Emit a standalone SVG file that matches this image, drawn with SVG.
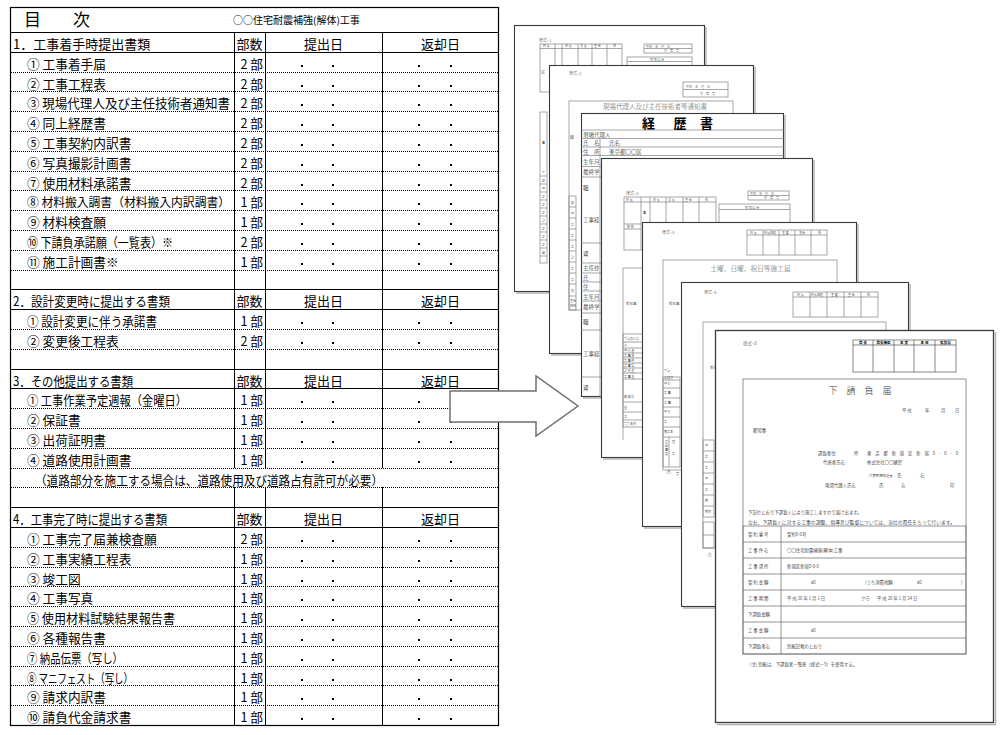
<svg xmlns="http://www.w3.org/2000/svg" width="1007" height="735" viewBox="0 0 1007 735">
<style>
text{font-family:"Noto Sans CJK JP","Noto Sans CJK SC",sans-serif;fill:#000;font-weight:300}
#toc-table text{font-weight:400}
.h{font-size:13px}
.i{font-size:12.7px}
.s{stroke:#000;stroke-width:1;fill:none}
.d{stroke:#000;stroke-width:1;stroke-dasharray:1 1;fill:none}
.pg{fill:#fff;stroke:#3a3a3a;stroke-width:1.1}
.sh{fill:none;stroke:#b0b0b0;stroke-width:1.4}
.l{fill:none;stroke:#808080;stroke-width:0.7}
.pt{fill:#444}
.t3{font-size:3px}
.t35{font-size:3.5px}
.t4{font-size:4px}
.t45{font-size:4.4px}
.t5{font-size:5.5px}
</style>
<defs>
<g id="dt"><rect x="301" y="0" width="2" height="2"/><rect x="332" y="0" width="2" height="2"/><rect x="418" y="0" width="2" height="2"/><rect x="450" y="0" width="2" height="2"/></g>
</defs>
<rect width="1007" height="735" fill="#fff"/>

<g id="toc-table">
<rect x="10.5" y="7.5" width="488" height="718" fill="#fff" stroke="#000" stroke-width="1.2"/>
<path class="s" d="M10 32.5H499M10 52.5H499M10 289.5H499M10 309.5H499M10 369.5H499M10 388.5H499M10 507.5H499M10 527.5H499"/>
<path class="d" d="M11 72.5H498M11 91.5H498M11 111.5H498M11 131.5H498M11 151.5H498M11 171.5H498M11 190.5H498M11 210.5H498M11 230.5H498M11 250.5H498M11 270.5H498M11 329.5H498M11 349.5H498M11 408.5H498M11 428.5H498M11 448.5H498M11 468.5H498M11 487.5H498M11 547.5H498M11 567.5H498M11 586.5H498M11 606.5H498M11 626.5H498M11 646.5H498M11 666.5H498M11 685.5H498M11 705.5H498"/>
<path class="s" d="M234.5 32V468M265.5 32V468M382.5 32V468M234.5 487V725M265.5 487V725M382.5 487V725"/>

<text x="24" y="26" style="font-size:17px">目</text>
<text x="73" y="26" style="font-size:17px">次</text>
<text x="233" y="24" style="font-size:10px">○○住宅耐震補強(解体)工事</text>

<text class="h" x="13" y="49">1．工事着手時提出書類</text>
<text class="h" x="13" y="306" textLength="157" lengthAdjust="spacingAndGlyphs">2．設計変更時に提出する書類</text>
<text class="h" x="13" y="386" textLength="120" lengthAdjust="spacingAndGlyphs">3．その他提出する書類</text>
<text class="h" x="13" y="524" textLength="154" lengthAdjust="spacingAndGlyphs">4．工事完了時に提出する書類</text>
<g class="h" text-anchor="middle">
<text x="249.5" y="49">部数</text><text x="323.5" y="49">提出日</text><text x="440.5" y="49">返却日</text>
<text x="249.5" y="306">部数</text><text x="323.5" y="306">提出日</text><text x="440.5" y="306">返却日</text>
<text x="249.5" y="386">部数</text><text x="323.5" y="386">提出日</text><text x="440.5" y="386">返却日</text>
<text x="249.5" y="524">部数</text><text x="323.5" y="524">提出日</text><text x="440.5" y="524">返却日</text>
</g>

<g class="i">
<text x="27" y="69">① 工事着手届</text>
<text x="27" y="89">② 工事工程表</text>
<text x="27" y="108" textLength="203" lengthAdjust="spacingAndGlyphs">③ 現場代理人及び主任技術者通知書</text>
<text x="27" y="128">④ 同上経歴書</text>
<text x="27" y="148">⑤ 工事契約内訳書</text>
<text x="27" y="168">⑥ 写真撮影計画書</text>
<text x="27" y="188">⑦ 使用材料承諾書</text>
<text x="27" y="207" textLength="203" lengthAdjust="spacingAndGlyphs" style="font-size:12px">⑧ 材料搬入調書（材料搬入内訳調書）</text>
<text x="27" y="227">⑨ 材料検査願</text>
<text x="27" y="247" textLength="146" lengthAdjust="spacingAndGlyphs">⑩ 下請負承諾願（一覧表）※</text>
<text x="27" y="267">⑪ 施工計画書※</text>
<text x="27" y="326" textLength="130" lengthAdjust="spacingAndGlyphs">① 設計変更に伴う承諾書</text>
<text x="27" y="346">② 変更後工程表</text>
<text x="27" y="405" textLength="160" lengthAdjust="spacingAndGlyphs">① 工事作業予定週報（金曜日）</text>
<text x="27" y="425">② 保証書</text>
<text x="27" y="445">③ 出荷証明書</text>
<text x="27" y="465">④ 道路使用計画書</text>
<text x="35" y="485" textLength="348" lengthAdjust="spacingAndGlyphs">（道路部分を施工する場合は、道路使用及び道路占有許可が必要）</text>
<text x="27" y="544">① 工事完了届兼検査願</text>
<text x="27" y="564">② 工事実績工程表</text>
<text x="27" y="584">③ 竣工図</text>
<text x="27" y="603">④ 工事写真</text>
<text x="27" y="623" textLength="148" lengthAdjust="spacingAndGlyphs">⑤ 使用材料試験結果報告書</text>
<text x="27" y="643">⑥ 各種報告書</text>
<text x="27" y="663" textLength="96" lengthAdjust="spacingAndGlyphs">⑦ 納品伝票（写し）</text>
<text x="27" y="683" textLength="106" lengthAdjust="spacingAndGlyphs">⑧ マニフェスト（写し）</text>
<text x="27" y="702">⑨ 請求内訳書</text>
<text x="27" y="722">⑩ 請負代金請求書</text>
</g>
<g class="i" text-anchor="end">
<text x="263" y="69">2 部</text><text x="263" y="89">2 部</text><text x="263" y="108">2 部</text><text x="263" y="128">2 部</text>
<text x="263" y="148">2 部</text><text x="263" y="168">2 部</text><text x="263" y="188">2 部</text><text x="263" y="207">1 部</text>
<text x="263" y="227">1 部</text><text x="263" y="247">2 部</text><text x="263" y="267">1 部</text>
<text x="263" y="326">1 部</text><text x="263" y="346">2 部</text>
<text x="263" y="405">1 部</text><text x="263" y="425">1 部</text><text x="263" y="445">1 部</text><text x="263" y="465">1 部</text>
<text x="263" y="544">2 部</text><text x="263" y="564">1 部</text><text x="263" y="584">1 部</text><text x="263" y="603">1 部</text>
<text x="263" y="623">1 部</text><text x="263" y="643">1 部</text><text x="263" y="663">1 部</text><text x="263" y="683">1 部</text>
<text x="263" y="702">1 部</text><text x="263" y="722">1 部</text>
</g>
<g>
<use href="#dt" y="65"/><use href="#dt" y="85"/><use href="#dt" y="104"/><use href="#dt" y="124"/><use href="#dt" y="144"/><use href="#dt" y="164"/><use href="#dt" y="184"/><use href="#dt" y="203"/><use href="#dt" y="223"/><use href="#dt" y="243"/><use href="#dt" y="263"/>
<use href="#dt" y="322"/><use href="#dt" y="342"/>
<use href="#dt" y="401"/><use href="#dt" y="421"/><use href="#dt" y="441"/><use href="#dt" y="461"/>
<use href="#dt" y="540"/><use href="#dt" y="560"/><use href="#dt" y="580"/><use href="#dt" y="599"/><use href="#dt" y="619"/><use href="#dt" y="639"/><use href="#dt" y="659"/><use href="#dt" y="679"/><use href="#dt" y="698"/><use href="#dt" y="718"/>
</g>
</g>

<g id="connectors">
<polygon points="450,391 536,391 536,376 578,406 536,436 536,422 450,422" fill="#fff" stroke="#707070" stroke-width="1.5" stroke-linejoin="miter"/>
</g>

<g id="page-1">
<rect class="pg" x="514.5" y="25.5" width="190" height="266"/>
<path class="sh" d="M706 27V293H516"/>
<text class="t4 pt" x="539" y="42">様式−1</text>
<rect class="l" x="540" y="44" width="82" height="48"/>
<path class="l" d="M540 48.5H622M555 44V92M562 44V92M578 44V92M592 44V92M607 44V92"/>
<g class="t3 pt"><text x="543" y="47.4">局 長</text><text x="565" y="47.4">局 長</text><text x="580" y="47.4">次 長</text><text x="594" y="47.4">主 任</text><text x="613" y="47.4">係</text></g>
<rect class="l" x="644" y="44" width="48" height="9"/><path class="l" d="M644 48.5H692"/>
<text class="t3 pt" x="646" y="47.5">平成　年　月　日</text><text class="t3 pt" x="664" y="52">収　第　号</text>
<rect class="l" x="627" y="57" width="65" height="22"/><path class="l" d="M627 61.5H692"/>
<text class="t3 pt" x="650" y="60.5">情 報 公 開</text>
<text class="t4 pt" x="541" y="74">区</text>
<rect class="l" x="540" y="112" width="7" height="151"/>
<path class="l" d="M540 176H547M540 184H547M540 192H547M540 200H547M540 208H547M540 216H547M540 224H547M540 232H547M540 240H547M540 248H547M540 256H547"/>
<g class="t3 pt"><text x="542" y="144">事</text><text x="542" y="174">下</text><text x="542" y="182">区</text><text x="542" y="190">契</text><text x="542" y="198">工</text><text x="542" y="206">工</text><text x="542" y="214">工</text><text x="542" y="222">請</text><text x="542" y="230">工</text><text x="542" y="238">工</text><text x="542" y="246">工</text><text x="542" y="254">高</text></g>
</g>

<g id="page-2">
<rect class="pg" x="549.5" y="65.5" width="204" height="288"/>
<path class="sh" d="M755 67V355H551"/>
<text class="t4 pt" x="569" y="75">様式−2</text>
<rect class="l" x="683" y="82" width="45" height="15"/><path class="l" d="M683 89.5H728"/>
<text class="t3 pt" x="686" y="87.5">平成　年　月　日</text><text class="t3 pt" x="700" y="95">収　第　号</text>
<rect class="l" x="569" y="101" width="164" height="209"/>
<text x="655" y="109" text-anchor="middle" style="font-size:6.5px;fill:#555">現場代理人及び主任技術者等通知書</text>
<text class="t4 pt" x="570" y="139">職</text>
<rect class="l" x="569" y="196" width="7" height="114"/>
<path class="l" d="M569 207H576M569 218H576M569 229H576M569 240H576M569 251H576M569 262H576M569 273H576M569 284H576M569 296H576"/>
<g class="t3 pt"><text x="571" y="204">区</text><text x="571" y="215">契</text><text x="571" y="226">工</text><text x="571" y="237">工</text><text x="571" y="248">工</text><text x="571" y="259">請</text><text x="571" y="270">工</text><text x="571" y="281">工</text><text x="571" y="292">現</text><text x="570" y="302">主任</text><text x="570" y="307">技術</text></g>
</g>

<g id="page-3">
<rect class="pg" x="581.5" y="113.5" width="202" height="283"/>
<path class="sh" d="M785 115V398H583"/>
<path class="l" d="M581 130H784M581 138.5H784M581 147H784M581 155.5H784M581 166.5H784M581 177H784M581 243H784M581 263H784M581 273H784M581 282H784M581 291H784M581 301H784M581 313H784M581 330H784M581 377H784M600 138.5V397"/>
<g style="font-size:13px;fill:#222" text-anchor="middle"><text x="648.5" y="127.5" style="font-weight:bold">経</text><text x="680" y="127.5" style="font-weight:bold">歴</text><text x="706.5" y="127.5" style="font-weight:bold">書</text></g>
<g class="t5 pt">
<text x="583" y="136.5">現場代理人</text>
<text x="583" y="145">氏　名</text><text x="609" y="145">氏名</text>
<text x="583" y="153.5">住　所</text><text x="609" y="153.5">東京都〇〇区</text>
<text x="583" y="163.5">生年月</text><text x="583" y="174">最終学</text>
<text x="583" y="190">職</text><text x="583" y="222">工事経</text><text x="583" y="256">資</text>
<text x="583" y="270">主任技</text><text x="583" y="280">氏</text><text x="583" y="289">住</text><text x="583" y="298.5">生年月</text><text x="583" y="309">最終学</text>
<text x="583" y="324">職</text><text x="583" y="356">工事経</text><text x="583" y="390">資</text>
</g>
</g>

<g id="page-4">
<rect class="pg" x="601.5" y="158.5" width="211" height="299"/>
<path class="sh" d="M814 160V459H603"/>
<text class="t4 pt" x="626" y="195">様式−4</text>
<rect class="l" x="624" y="197" width="92" height="53"/>
<path class="l" d="M624 202H716M641 197V250M650 197V250M666 197V250M683 197V250M699 197V250M624 224H641M624 229H641"/>
<g class="t3 pt"><text x="626" y="200.5">局 長</text><text x="653" y="200.5">局 長</text><text x="668" y="200.5">次 長</text><text x="685" y="200.5">主 任</text><text x="705" y="200.5">係</text><text x="643" y="214">事</text><text x="627" y="227.5">技 術</text></g>
<rect class="l" x="748" y="191" width="41" height="9"/><path class="l" d="M748 195.5H789"/>
<text class="t3 pt" x="750" y="194.5">平成　年　月　日</text><text class="t3 pt" x="764" y="199">収　第　号</text>
<rect class="l" x="719" y="204" width="71" height="30"/><path class="l" d="M719 209.5H790"/>
<text class="t3 pt" x="745" y="208.5">情 報 公 開</text>
<path class="l" d="M623 440V268H812"/>
<text class="t35 pt" x="626" y="305">都知事</text>
<rect class="l" x="623" y="334" width="20" height="93"/>
<path class="l" d="M623 342H643M623 348H643M623 353H643M623 358H643M623 363H643M623 368H643M623 373H643M623 379H643M623 402H643M623 412H643M623 420H643"/>
<g class="t3 pt"><text x="624" y="340">下記のとお</text><text x="624" y="346">記</text><text x="624" y="352">契 約 番</text><text x="624" y="357">工 事 番</text><text x="624" y="362">工 事 件</text><text x="624" y="367">工 事 場</text><text x="624" y="372">請 負 金</text><text x="624" y="377.5">工 事 金</text><text x="624" y="398">概 要 説</text><text x="624" y="409">金</text><text x="624" y="418">工</text><text x="624" y="425">完了年月</text></g>
</g>

<g id="page-5">
<rect class="pg" x="642.5" y="222.5" width="214" height="304"/>
<path class="sh" d="M858 224V528H644"/>
<text class="t4 pt" x="662" y="234">様式−5</text>
<rect class="l" x="747" y="230" width="80" height="25"/>
<path class="l" d="M747 235H827M763 230V255M779 230V255M795 230V255M811 230V255"/>
<g class="t3 pt"><text x="750" y="233.7">局 長</text><text x="764" y="233.7">局長補佐</text><text x="782" y="233.7">主 査</text><text x="799" y="233.7">主任</text><text x="818" y="233.7">係</text></g>
<rect class="l" x="663" y="260" width="174" height="210"/>
<text x="750.5" y="270.5" text-anchor="middle" style="font-size:6.7px;fill:#555">土曜、日曜、祝日等施工届</text>
<text class="t35 pt" x="669" y="305">都知事</text>
<rect class="l" x="663" y="377" width="17" height="90"/>
<path class="l" d="M663 380H680M663 388H680M663 398H680M663 407H680M663 417H680M663 427H680M663 437H680M669 437V467"/>
<g class="t3 pt"><text x="664" y="372">下記</text><text x="664" y="379">お届け</text><text x="664" y="385">契 約</text><text x="664" y="394">工 事</text><text x="664" y="403.5">工 事</text><text x="664" y="413">契 約</text><text x="664" y="423">工</text><text x="664" y="433">施工年</text><text x="665" y="443">届</text><text x="665" y="447">出</text><text x="665" y="451">事</text><text x="665" y="455">項</text><text x="672" y="443">理</text><text x="672" y="455">工</text><text x="666" y="473">(注)</text><text x="676" y="475">号</text></g>
</g>

<g id="page-6">
<rect class="pg" x="681.5" y="282.5" width="227" height="324"/>
<path class="sh" d="M910 284V608H683"/>
<text class="t4 pt" x="704" y="294">様式−6</text>
<rect class="l" x="793" y="292" width="85" height="25"/>
<path class="l" d="M793 297H878M810 292V317M827 292V317M844 292V317M861 292V317"/>
<g class="t3 pt"><text x="797" y="295.7">局 長</text><text x="811" y="295.7">局長補佐</text><text x="831" y="295.7">主 査</text><text x="848" y="295.7">主 任</text><text x="867" y="295.7">係</text></g>
<rect class="l" x="703" y="322" width="183" height="226"/>
<text class="t35 pt" x="710" y="369">都知事</text>
<rect class="l" x="703" y="440" width="11" height="77"/>
<path class="l" d="M703 451H714M703 462H714M703 473H714M703 484H714M703 495H714M703 506H714"/>
<g class="t3 pt"><text x="705" y="447">契</text><text x="705" y="458">工</text><text x="705" y="469">工</text><text x="705" y="480">契</text><text x="705" y="491">工</text><text x="705" y="502">物</text><text x="705" y="513">物材</text></g>
<rect class="l" x="703" y="522" width="11" height="26"/><path class="l" d="M703 535H714"/>
<text class="t3 pt" x="707" y="556">(注)</text>
</g>

<g id="page-7">
<rect class="pg" x="715.5" y="330.5" width="278" height="392" style="stroke-width:1.3"/>
<path class="sh" d="M995.5 332V724.5H717"/>
<text class="t45 pt" x="743" y="345">様式−8</text>
<rect class="l" x="853" y="340" width="103" height="32" style="stroke:#555"/>
<path class="l" d="M853 345H956M873 340V372M894 340V372M914 340V372M935 340V372" style="stroke:#555"/>
<g class="t35 pt" text-anchor="middle"><text x="863" y="344" style="font-weight:bold">局 長</text><text x="883.5" y="344" style="font-weight:bold">局長補佐</text><text x="904" y="344" style="font-weight:bold">主 査</text><text x="924.5" y="344" style="font-weight:bold">主 任</text><text x="945.5" y="344" style="font-weight:bold">監督員</text></g>
<rect class="l" x="743" y="379" width="223" height="275" style="stroke:#666"/>
<text x="860" y="394" text-anchor="middle" style="font-size:9px;fill:#333">下　請　負　届</text>
<g class="t45 pt">
<text x="902" y="412">平 成</text><text x="925" y="412">年</text><text x="941" y="412">月</text><text x="955" y="412">日</text>
<text x="753" y="432">都知事</text>
<text x="818" y="455">請負者住</text><text x="854" y="455">所</text>
<text x="867" y="455" textLength="91" lengthAdjust="spacing">東京都新宿区新宿0-0-0</text>
<text x="823" y="464">代表者氏名</text><text x="867" y="464">株式会社〇〇建設</text>
<text x="869" y="476.5" style="font-size:3.4px">代表取締役社長</text><text x="897" y="476.5">氏</text><text x="920" y="476.5">名</text>
<text x="825" y="487">現場代理人氏名</text><text x="879" y="487">氏</text><text x="901" y="487">名</text><text x="950" y="487">印</text>
<text x="748" y="514">下記のとおり下請負人により施工しますので届け出ます。</text>
<text x="748" y="524" textLength="207" lengthAdjust="spacingAndGlyphs">なお、下請負人に対する工事の調整、指導及び監督については、当社の責任をもって行います。</text>
</g>
<rect class="l" x="743" y="526" width="223" height="128" style="stroke:#666"/>
<path class="l" d="M743 542H966M743 558H966M743 574H966M743 590H966M743 606H966M743 622H966M743 638H966M781 526V654" style="stroke:#666"/>
<g class="t45 pt">
<text x="748" y="535.5">契 約 番 号</text><text x="787" y="535.5">契約0-0号</text>
<text x="748" y="551.5">工 事 件 名</text><text x="787" y="551.5">〇〇住宅耐震補強(解体)工事</text>
<text x="748" y="567.5">工 事 場 所</text><text x="787" y="567.5">新宿区新宿0-0-0</text>
<text x="748" y="583.5">契 約 金 額</text><text x="811" y="583.5">¥0</text><text x="865" y="583.5">(うち消費税額</text><text x="917" y="583.5">¥0</text><text x="961" y="583.5">)</text>
<text x="748" y="599.5">工 事 期 間</text><text x="787" y="599.5">平 成 20 年 1 月 1 日</text><text x="861" y="599.5">から</text><text x="877" y="599.5">平 成 20 年 1 月 24 日</text>
<text x="748" y="615.5">下請負金額</text>
<text x="748" y="631.5">工 事 金 額</text><text x="811" y="631.5">¥0</text>
<text x="748" y="647.5">下請負者名</text><text x="787" y="647.5">別紙記載のとおり</text>
<text x="750" y="666">(注) 別紙は、下請負者一覧表（様式ー9）を使用する。</text>
</g>
</g>
</svg>
